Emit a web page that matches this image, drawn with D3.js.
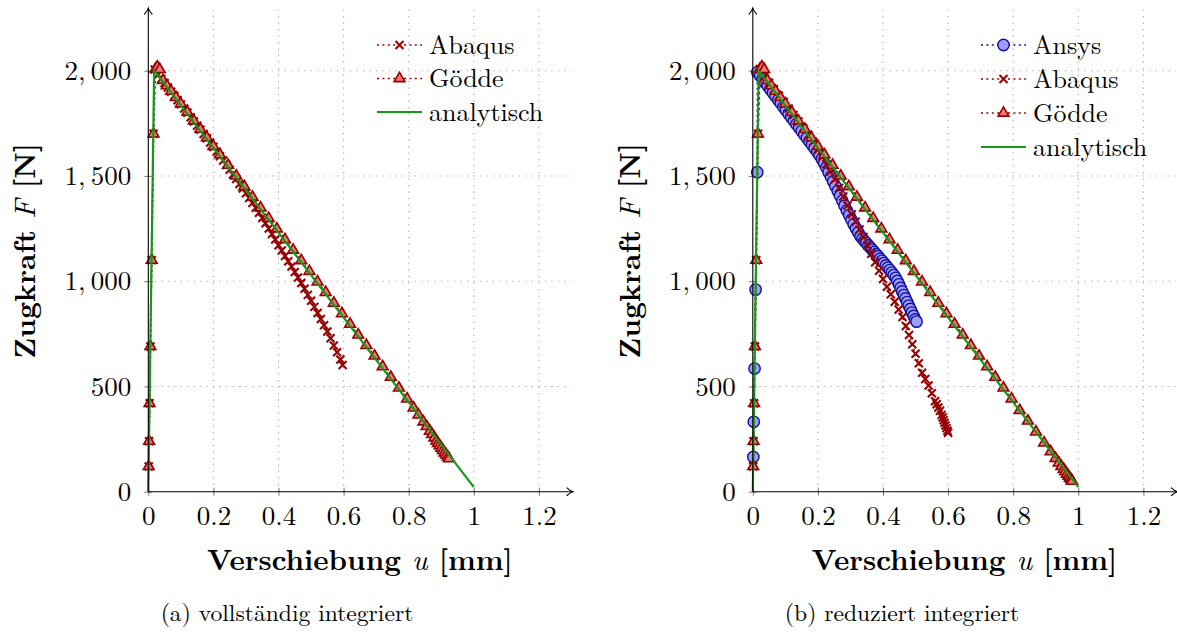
<!DOCTYPE html>
<html>
<head>
<meta charset="utf-8">
<script src="https://cdn.jsdelivr.net/npm/d3@7"></script>
<style>
  html, body { margin: 0; padding: 0; background: #fff; }
  svg { display: block; font-family: "Latin Modern Roman", "CMU Serif", "Liberation Serif", serif; }
  svg text { font-family: "Latin Modern Roman", "CMU Serif", "Liberation Serif", serif; }
</style>
</head>
<body>
<svg id="fig" width="1177" height="632"></svg>
<script>
// ---------------- Data ----------------
// Axis ticks
const xTicks = [0, 0.2, 0.4, 0.6, 0.8, 1, 1.2];
const xTickLabels = ["0", "0.2", "0.4", "0.6", "0.8", "1", "1.2"];
const yTicks = [0, 500, 1000, 1500, 2000];
const yTickLabels = ["0", "500", "1,\u2009000", "1,\u2009500", "2,\u2009000"];

// Analytical solution (both panels)
const uAnalytic = [0, 0.018, 1.0];
const fAnalytic = [0, 2000, 22];

// (a) Gödde, fully integrated
const uGoeddeA = [0.0012, 0.0024, 0.004, 0.0065, 0.0105, 0.016,
  0.022, 0.028, 0.035, 0.045, 0.057, 0.07, 0.085, 0.1, 0.12, 0.14, 0.16, 0.18, 0.2, 0.22,
  0.245, 0.27, 0.295, 0.32, 0.345, 0.37, 0.395, 0.42, 0.445, 0.47, 0.495, 0.52, 0.545, 0.57,
  0.595, 0.62, 0.645, 0.67, 0.695, 0.72, 0.745, 0.77, 0.795,
  0.815, 0.83, 0.845, 0.855, 0.865, 0.872, 0.879, 0.885, 0.89, 0.895, 0.9, 0.905, 0.91, 0.915, 0.92, 0.924];
const fGoeddeA = [120, 240, 420, 690, 1100, 1700,
  2008, 2018, 2006, 1954, 1929, 1903, 1873, 1843, 1803, 1762, 1722, 1682, 1641, 1601,
  1551, 1500, 1450, 1400, 1349, 1299, 1249, 1198, 1148, 1098, 1047, 997, 947, 896,
  846, 796, 745, 695, 645, 594, 544, 493, 441,
  398, 365, 332, 310, 288, 272, 256, 242, 230, 219, 207, 196, 185, 175, 165, 157];

// (a) Abaqus, fully integrated
const uAbaqusA = [0.0012, 0.0024, 0.004, 0.0065, 0.0105, 0.016,
  0.02, 0.03, 0.04, 0.05, 0.06, 0.07, 0.08, 0.09, 0.10, 0.11, 0.12, 0.13, 0.14, 0.15,
  0.16, 0.17, 0.18, 0.19, 0.20, 0.21, 0.22, 0.23, 0.24, 0.25, 0.26, 0.27, 0.28, 0.29,
  0.30, 0.31, 0.32, 0.33, 0.34, 0.35, 0.36, 0.37, 0.38, 0.39, 0.40, 0.41, 0.42, 0.43,
  0.44, 0.45, 0.46, 0.47, 0.48, 0.49, 0.50, 0.51, 0.52, 0.53, 0.54, 0.55, 0.56, 0.57,
  0.58, 0.59, 0.597];
const fAbaqusA = [120, 240, 420, 690, 1100, 1700,
  2006, 1981, 1961, 1941, 1920, 1900, 1880, 1860, 1840, 1820, 1800, 1779, 1759, 1739,
  1719, 1699, 1679, 1659, 1637, 1615, 1594, 1573, 1552, 1530, 1507, 1485, 1462, 1440,
  1418, 1395, 1372, 1349, 1325, 1300, 1275, 1250, 1224, 1198, 1171, 1146, 1120, 1095,
  1070, 1044, 1018, 992, 964, 935, 907, 878, 849, 820, 791, 761, 729, 695,
  662, 628, 602];

// (b) Ansys, reduced integration
const uAnsysB = [0.0015, 0.003, 0.0053, 0.0086, 0.0137,
  0.014, 0.022, 0.030, 0.038, 0.046, 0.054, 0.062, 0.070, 0.078, 0.086, 0.094, 0.102,
  0.110, 0.118, 0.126, 0.134, 0.142, 0.150, 0.158, 0.166, 0.174, 0.182, 0.190, 0.198,
  0.205, 0.212, 0.219, 0.226, 0.233, 0.240, 0.247, 0.254, 0.261, 0.268, 0.275, 0.282,
  0.289, 0.296, 0.303, 0.310, 0.317, 0.324, 0.331,
  0.337, 0.343, 0.349, 0.355, 0.361, 0.367, 0.373, 0.379, 0.385, 0.391, 0.397, 0.403,
  0.409, 0.415, 0.421, 0.427, 0.433, 0.439,
  0.444, 0.449, 0.454, 0.459, 0.464, 0.469, 0.474, 0.479, 0.484, 0.489, 0.494, 0.499, 0.503];
const fAnsysB = [165, 332, 585, 960, 1518,
  1993, 1977, 1960, 1944, 1927, 1911, 1894, 1878, 1861, 1845, 1828, 1812,
  1795, 1779, 1762, 1746, 1729, 1713, 1696, 1680, 1664, 1647, 1631, 1614,
  1598, 1580, 1561, 1540, 1518, 1496, 1474, 1451, 1428, 1405, 1382, 1359,
  1336, 1314, 1292, 1271, 1251, 1232, 1214,
  1202, 1191, 1181, 1170, 1160, 1149, 1139, 1128, 1118, 1107, 1097, 1086,
  1075, 1064, 1053, 1041, 1029, 1016,
  1001, 985, 968, 951, 934, 918, 901, 884, 868, 851, 835, 818, 808];

// (b) Abaqus, reduced integration
const uAbaqusB = [0.0012, 0.0024, 0.004, 0.0065, 0.0105, 0.016,
  0.022, 0.035, 0.05, 0.065, 0.08, 0.095, 0.11, 0.125, 0.14, 0.155, 0.17, 0.185, 0.2,
  0.213, 0.226, 0.239, 0.252, 0.265, 0.278, 0.291, 0.304, 0.316, 0.328, 0.34,
  0.352, 0.364, 0.376, 0.388, 0.4, 0.412, 0.424, 0.436, 0.448, 0.46,
  0.47, 0.48, 0.49, 0.5, 0.51, 0.52, 0.53, 0.54, 0.55, 0.56,
  0.565, 0.57, 0.575, 0.58, 0.583, 0.586, 0.589, 0.592, 0.595, 0.598, 0.6];
const fAbaqusB = [120, 240, 420, 690, 1100, 1700,
  2008, 1970, 1942, 1912, 1881, 1851, 1820, 1790, 1759, 1727, 1695, 1662, 1625,
  1591, 1556, 1520, 1484, 1443, 1402, 1360, 1318, 1282, 1246, 1210,
  1170, 1130, 1090, 1050, 1010, 974, 938, 902, 866, 830,
  787, 744, 700, 655, 610, 565, 535, 505, 468, 430,
  415, 400, 385, 365, 352, 340, 327, 315, 302, 290, 280];

// (b) Gödde, reduced integration
const uGoeddeB = [0.0012, 0.0024, 0.004, 0.0065, 0.0105, 0.016,
  0.022, 0.028, 0.035, 0.045, 0.057, 0.07, 0.085, 0.1, 0.12, 0.14, 0.16, 0.18, 0.2, 0.22,
  0.245, 0.27, 0.295, 0.32, 0.345, 0.37, 0.395, 0.42, 0.445, 0.47, 0.495, 0.52, 0.545, 0.57,
  0.595, 0.62, 0.645, 0.67, 0.695, 0.72, 0.745, 0.77, 0.795,
  0.82, 0.845, 0.87, 0.895, 0.915, 0.93, 0.94, 0.948, 0.955, 0.96, 0.965, 0.97, 0.974, 0.978, 0.981];
const fGoeddeB = [120, 240, 420, 690, 1100, 1700,
  2008, 2018, 2006, 1954, 1929, 1903, 1873, 1843, 1803, 1762, 1722, 1682, 1641, 1601,
  1551, 1500, 1450, 1400, 1349, 1299, 1249, 1198, 1148, 1098, 1047, 997, 947, 896,
  846, 796, 745, 695, 645, 594, 544, 493, 441,
  386, 336, 284, 232, 190, 158, 137, 120, 106, 95, 84, 74, 65, 57, 50];

const zip = (u, f) => u.map((v, i) => ({ u: v, f: f[i] }));

// ---------------- Styles ----------------
const RED = "#990000", RED_FILL = "#ee7777";
const BLUE = "#10109a", BLUE_FILL = "#9c9cff";
const GREEN = "#16991a";
const SERIF = '"Latin Modern Roman", "CMU Serif", "Liberation Serif", serif';

const styles = {
  Ansys:      { color: BLUE, dash: "2,3.4", mark: "circle" },
  Abaqus:     { color: RED,  dash: "2,3.4", mark: "cross" },
  "Gödde":    { color: RED,  dash: "2,3.4", mark: "triangle" },
  analytisch: { color: GREEN, dash: null,   mark: null }
};

function drawMark(sel, kind) {
  if (kind === "cross") {
    sel.append("path")
      .attr("d", "M-4,-4L4,4M-4,4L4,-4")
      .attr("stroke", RED).attr("stroke-width", 2.1).attr("fill", "none");
  } else if (kind === "triangle") {
    sel.append("path")
      .attr("d", "M0,-6.2L5.4,3.1L-5.4,3.1Z")
      .attr("stroke", RED).attr("stroke-width", 1.6).attr("fill", RED_FILL)
      .attr("stroke-linejoin", "miter");
  } else if (kind === "circle") {
    sel.append("circle").attr("r", 5.7)
      .attr("stroke", BLUE).attr("stroke-width", 1.4).attr("fill", BLUE_FILL);
  }
}

const svg = d3.select("#fig");

function arrowHead(g, x, y, dir) {
  // pgf "to" style tip
  const p = dir === "up"
    ? `M${x - 3.8},${y + 6} Q${x - 0.8},${y + 2.8} ${x},${y} Q${x + 0.8},${y + 2.8} ${x + 3.8},${y + 6}`
    : `M${x - 6},${y - 3.8} Q${x - 2.8},${y - 0.8} ${x},${y} Q${x - 2.8},${y + 0.8} ${x - 6},${y + 3.8}`;
  g.append("path").attr("d", p).attr("fill", "none").attr("stroke", "#000")
    .attr("stroke-width", 1.1).attr("stroke-linecap", "round");
}

function drawPanel(cfg) {
  const g = svg.append("g");
  const x = d3.scaleLinear().domain([0, 1.3]).range([cfg.x0, cfg.x0 + 1.3 * 325.5]);
  const y = d3.scaleLinear().domain([0, 2290]).range([491.7, 491.7 - 2290 * 0.2105]);
  const [xa, xb] = x.range();
  const [ya, yb] = y.range();

  // grid
  const grid = g.append("g").attr("stroke", "#a8a8a8").attr("stroke-width", 1.1)
    .attr("stroke-dasharray", "1.2,5.3");
  xTicks.filter(t => t > 0).forEach(t => {
    grid.append("line").attr("x1", x(t)).attr("x2", x(t)).attr("y1", ya).attr("y2", yb);
  });
  yTicks.filter(t => t > 0).forEach(t => {
    grid.append("line").attr("x1", xa).attr("x2", xb).attr("y1", y(t)).attr("y2", y(t));
  });

  // tick marks + labels via d3 axes
  const axX = d3.axisBottom(x).tickValues(xTicks)
    .tickFormat((d, i) => xTickLabels[i]).tickSizeInner(4).tickSizeOuter(0).tickPadding(10);
  const gx = g.append("g").attr("transform", `translate(0,${ya})`).call(axX)
    .attr("font-family", SERIF).attr("font-size", 27);
  gx.select(".domain").remove();
  gx.selectAll(".tick line").attr("stroke", "#777").attr("y1", -4).attr("y2", 4);
  gx.selectAll(".tick text").attr("fill", "#000").attr("dy", "0.71em");

  const axY = d3.axisLeft(y).tickValues(yTicks)
    .tickFormat((d, i) => yTickLabels[i]).tickSizeInner(4).tickSizeOuter(0).tickPadding(13);
  const gy = g.append("g").attr("transform", `translate(${xa},0)`).call(axY)
    .attr("font-family", SERIF).attr("font-size", 27);
  gy.select(".domain").remove();
  gy.selectAll(".tick line").attr("stroke", "#777").attr("x1", -4).attr("x2", 4);
  gy.selectAll(".tick text").attr("fill", "#000");

  // series
  const line = d3.line().x(d => x(d.u)).y(d => y(d.f));
  cfg.series.forEach(s => {
    const st = styles[s.name];
    const data = zip(s.u, s.f);
    g.append("path").datum(data).attr("d", line).attr("fill", "none")
      .attr("stroke", st.color)
      .attr("stroke-width", st.mark ? 1.6 : 2.2)
      .attr("stroke-dasharray", st.dash);
    if (st.mark) {
      g.append("g").selectAll("g").data(data).join("g")
        .attr("transform", d => `translate(${x(d.u)},${y(d.f)})`)
        .each(function () { drawMark(d3.select(this), st.mark); });
    }
  });

  // axis lines with arrows
  g.append("line").attr("x1", xa).attr("x2", xb + 1.5).attr("y1", ya).attr("y2", ya)
    .attr("stroke", "#000").attr("stroke-width", 1.1);
  g.append("line").attr("x1", xa).attr("x2", xa).attr("y1", ya).attr("y2", yb - 1.5)
    .attr("stroke", "#000").attr("stroke-width", 1.1);
  arrowHead(g, xb + 1.5, ya, "right");
  arrowHead(g, xa, yb - 1.5, "up");

  // legend
  const lg = g.append("g");
  cfg.legend.forEach((name, i) => {
    const st = styles[name];
    const ry = cfg.legY + i * cfg.legStep;
    lg.append("line").attr("x1", cfg.legX).attr("x2", cfg.legX + 45)
      .attr("y1", ry).attr("y2", ry).attr("stroke", st.color)
      .attr("stroke-width", st.mark ? 1.6 : 2.2).attr("stroke-dasharray", st.dash);
    if (st.mark) drawMark(lg.append("g").attr("transform", `translate(${cfg.legX + 22.5},${ry})`), st.mark);
    lg.append("text").attr("x", cfg.legX + 52).attr("y", ry + 8.5)
      .attr("font-size", 26).text(name);
  });

  // axis labels
  const xl = g.append("text").attr("x", (xa + xb) / 2).attr("y", 570)
    .attr("text-anchor", "middle").attr("font-size", 29);
  xl.append("tspan").attr("font-weight", "bold").text("Verschiebung ");
  xl.append("tspan").attr("font-style", "italic").text("u");
  xl.append("tspan").attr("font-weight", "bold").text(" [mm]");

  const ylab = g.append("text")
    .attr("transform", `translate(${cfg.x0 - 113},${(ya + yb) / 2}) rotate(-90)`)
    .attr("text-anchor", "middle").attr("font-size", 29.5);
  ylab.append("tspan").attr("font-weight", "bold").text("Zugkraft ");
  ylab.append("tspan").attr("font-style", "italic").text("F");
  ylab.append("tspan").attr("font-weight", "bold").text(" [N]");

  // caption
  g.append("text").attr("x", cfg.capX).attr("y", 621).attr("text-anchor", "middle")
    .attr("font-size", 23.6).text(cfg.caption);
}

drawPanel({
  x0: 148.3,
  series: [
    { name: "Abaqus", u: uAbaqusA, f: fAbaqusA },
    { name: "Gödde", u: uGoeddeA, f: fGoeddeA },
    { name: "analytisch", u: uAnalytic, f: fAnalytic }
  ],
  legend: ["Abaqus", "Gödde", "analytisch"],
  legX: 377, legY: 45, legStep: 33.5,
  capX: 287, caption: "(a) vollständig integriert"
});

drawPanel({
  x0: 752.8,
  series: [
    { name: "Ansys", u: uAnsysB, f: fAnsysB },
    { name: "Abaqus", u: uAbaqusB, f: fAbaqusB },
    { name: "Gödde", u: uGoeddeB, f: fGoeddeB },
    { name: "analytisch", u: uAnalytic, f: fAnalytic }
  ],
  legend: ["Ansys", "Abaqus", "Gödde", "analytisch"],
  legX: 981, legY: 45, legStep: 34,
  capX: 902, caption: "(b) reduziert integriert"
});
</script>
</body>
</html>
